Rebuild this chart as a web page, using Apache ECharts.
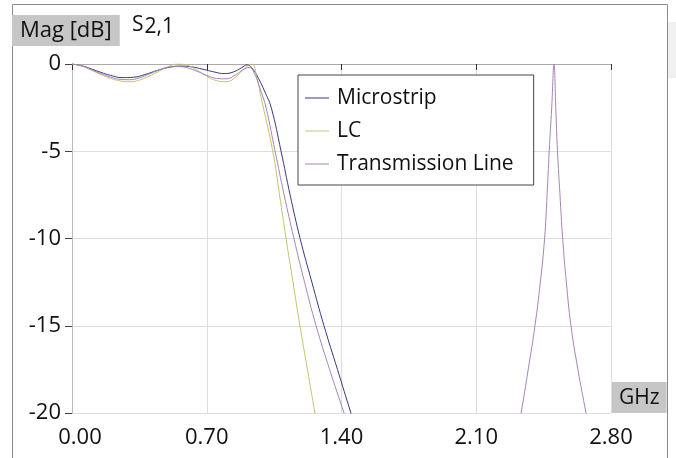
<!DOCTYPE html>
<html>
<head>
<meta charset="utf-8">
<script src="https://cdn.jsdelivr.net/npm/echarts@6/dist/echarts.min.js"></script>
<style>
  html, body { margin: 0; padding: 0; background: #fff; }
  #myChart { width: 676px; height: 458px; }
</style>
</head>
<body>
<div id="myChart"></div>
<script>
// S2,1 magnitude in dB vs frequency in GHz
const msFreq = [0, 0.05, 0.10, 0.15, 0.20, 0.26, 0.32, 0.38, 0.44, 0.50, 0.56, 0.62, 0.68, 0.74, 0.79, 0.84, 0.88, 0.91, 0.94, 0.97, 1.00, 1.035, 1.086, 1.133, 1.185, 1.246, 1.309, 1.379, 1.449, 1.47];
const msMag = [0, -0.10, -0.28, -0.48, -0.65, -0.78, -0.76, -0.60, -0.38, -0.20, -0.12, -0.16, -0.30, -0.46, -0.55, -0.45, -0.22, -0.05, -0.30, -0.85, -1.55, -2.5, -5.0, -7.5, -10.0, -12.5, -15.0, -17.5, -20.0, -20.7];

const lcFreq = [0, 0.05, 0.10, 0.15, 0.20, 0.25, 0.30, 0.35, 0.40, 0.45, 0.50, 0.55, 0.60, 0.65, 0.70, 0.75, 0.80, 0.85, 0.89, 0.935, 0.96, 0.99, 1.043, 1.078, 1.112, 1.148, 1.184, 1.223, 1.262, 1.275];
const lcMag = [0, -0.12, -0.35, -0.60, -0.82, -0.97, -1.02, -0.92, -0.70, -0.42, -0.15, 0, -0.08, -0.35, -0.70, -0.95, -1.02, -0.75, -0.30, 0, -0.8, -2.3, -5.0, -7.5, -10.0, -12.5, -15.0, -17.5, -20.0, -20.8];

// transmission line: passband, a gap below -20 dB, then the spurious peak at 2.5 GHz
const tlFreq = [0, 0.05, 0.10, 0.15, 0.20, 0.25, 0.30, 0.35, 0.40, 0.45, 0.50, 0.55, 0.60, 0.65, 0.70, 0.75, 0.80, 0.85, 0.89, 0.92, 0.95, 0.98, 1.008, 1.055, 1.102, 1.153, 1.208, 1.268, 1.338, 1.413, 1.43,
  1.8,
  2.32, 2.333, 2.37, 2.405, 2.433, 2.455, 2.468, 2.479, 2.492, 2.504, 2.513, 2.522, 2.535, 2.549, 2.568, 2.592, 2.628, 2.67, 2.68];
const tlMag = [0, -0.11, -0.32, -0.55, -0.75, -0.88, -0.90, -0.80, -0.58, -0.35, -0.18, -0.15, -0.22, -0.42, -0.65, -0.82, -0.85, -0.62, -0.32, -0.20, -0.6, -1.5, -2.5, -5.0, -7.5, -10.0, -12.5, -15.0, -17.5, -20.0, -20.6,
  null,
  -20.7, -20.0, -17.5, -15.0, -12.5, -10.0, -7.5, -5.0, -2.5, 0, -2.5, -5.0, -7.5, -10.0, -12.5, -15.0, -17.5, -20.0, -20.6];

const seriesNames = ['Microstrip', 'LC', 'Transmission Line'];
const seriesColors = ['#38387f', '#c8c070', '#a585b5'];

const font = 'Open Sans';

function pairs(xs, ys) {
  return xs.map((x, i) => [x, ys[i]]);
}

let myChart = echarts.init(document.getElementById('myChart'));
myChart.setOption({
  animation: false,
  backgroundColor: '#fff',
  title: [
    {
      text: 'Mag [dB]',
      left: 12,
      top: 15,
      backgroundColor: '#c6c6c6',
      padding: [4, 8, 3, 8],
      textStyle: { fontFamily: font, fontSize: 22, fontWeight: 'normal', color: '#111', lineHeight: 24 },
    },
    {
      text: '{s|S}{n|2,1}',
      left: 132,
      top: 15,
      padding: 0,
      textStyle: {
        fontWeight: 'normal',
        rich: {
          s: { fontFamily: font, fontSize: 21, fontWeight: 'normal', color: '#111', padding: [0, 1, 4, 0] },
          n: { fontFamily: font, fontSize: 21, fontWeight: 'normal', color: '#111' },
        },
      },
    },
    {
      // x-axis unit box, bottom-right corner of the plot
      text: 'GHz',
      left: 612,
      top: 382,
      backgroundColor: '#c6c6c6',
      padding: [4, 7, 3, 7],
      textStyle: { fontFamily: font, fontSize: 21, fontWeight: 'normal', color: '#111', lineHeight: 24 },
    },
  ],
  legend: {
    orient: 'vertical',
    left: 298,
    top: 75,
    data: seriesNames,
    icon: 'rect',
    itemWidth: 24,
    itemHeight: 1,
    itemGap: 11,
    padding: [12, 20, 10, 7],
    backgroundColor: '#fff',
    borderColor: '#444',
    borderWidth: 1,
    borderRadius: 0,
    textStyle: { fontFamily: font, fontSize: 21, color: '#111', lineHeight: 22, padding: [0, 0, 0, 3] },
  },
  grid: { left: 72, right: 65, top: 64, bottom: 45 },
  xAxis: {
    type: 'value',
    min: 0,
    max: 2.8,
    interval: 0.7,
    axisLine: { show: true, lineStyle: { color: '#aaa', width: 1 } },
    axisTick: { show: true, length: 6, lineStyle: { color: '#333' } },
    axisLabel: {
      margin: 14, fontFamily: font, fontSize: 22, color: '#111',
      // the first label sits a little right of its tick, clear of the y labels
      formatter: (v) => (v === 0 ? '{first|0.00}' : v.toFixed(2)),
      rich: {
        first: { fontFamily: font, fontSize: 22, color: '#111', padding: [0, 0, 0, 16] },
      },
    },
    splitLine: { show: true, lineStyle: { color: '#dedede', width: 1 } },
  },
  yAxis: {
    type: 'value',
    min: -20,
    max: 0,
    interval: 5,
    axisLine: { show: true, lineStyle: { color: '#bbb', width: 1 } },
    axisTick: { show: true, length: 7, lineStyle: { color: '#444' } },
    axisLabel: { margin: 11, fontFamily: font, fontSize: 22, color: '#111' },
    splitLine: { show: true, lineStyle: { color: '#dedede', width: 1 } },
  },
  graphic: [
    {
      type: 'rect',
      silent: true,
      z: -1,
      shape: { x: 12.5, y: 4.5, width: 655, height: 470 },
      style: { fill: 'none', stroke: '#8a8a8a', lineWidth: 1 },
    },
    {
      type: 'rect',
      silent: true,
      shape: { x: 668, y: 22, width: 8, height: 56 },
      style: { fill: '#f0f0f0' },
    },
  ],
  series: [
    {
      name: seriesNames[0],
      type: 'line',
      data: pairs(msFreq, msMag),
      symbol: 'none',
      smooth: 0.45,
      clip: true,
      lineStyle: { color: seriesColors[0], width: 1 },
      itemStyle: { color: seriesColors[0] },
    },
    {
      name: seriesNames[1],
      type: 'line',
      data: pairs(lcFreq, lcMag),
      symbol: 'none',
      smooth: 0.45,
      clip: true,
      lineStyle: { color: seriesColors[1], width: 1 },
      itemStyle: { color: seriesColors[1] },
    },
    {
      name: seriesNames[2],
      type: 'line',
      data: pairs(tlFreq, tlMag),
      symbol: 'none',
      smooth: 0.45,
      connectNulls: false,
      clip: true,
      lineStyle: { color: seriesColors[2], width: 1 },
      itemStyle: { color: seriesColors[2] },
    },
  ],
});
</script>
</body>
</html>
